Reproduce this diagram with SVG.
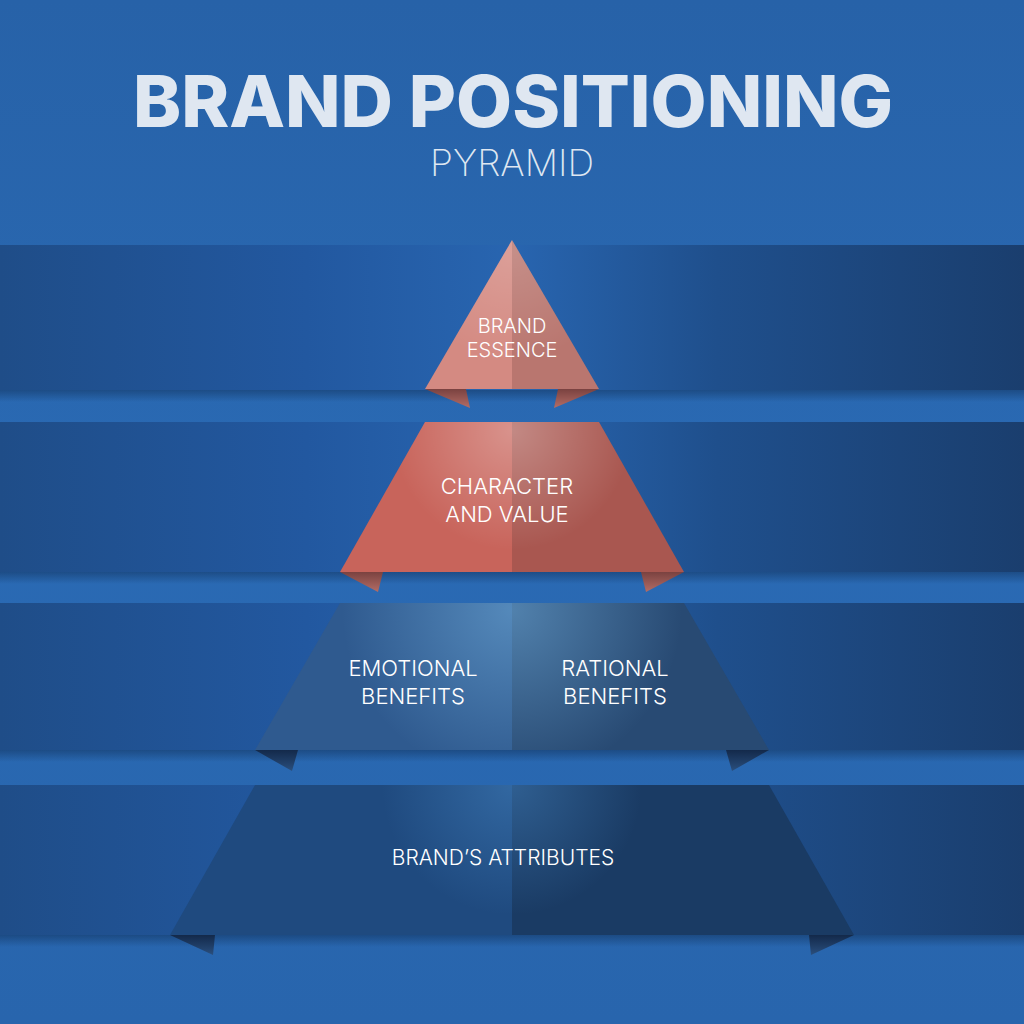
<svg xmlns="http://www.w3.org/2000/svg" width="1024" height="1024" viewBox="0 0 1024 1024">
<defs>
<linearGradient id="bg" x1="0" y1="0" x2="0" y2="1">
<stop offset="0" stop-color="#2762a8"/><stop offset="0.5" stop-color="#2a6ab4"/><stop offset="1" stop-color="#2865ad"/>
</linearGradient>
<linearGradient id="band" x1="0" y1="0" x2="1" y2="0">
<stop offset="0" stop-color="#1f4d88"/><stop offset="0.3" stop-color="#2258a0"/><stop offset="0.5" stop-color="#2865b0"/><stop offset="0.7" stop-color="#1f4f8c"/><stop offset="1" stop-color="#1a3e6e"/>
</linearGradient>
<radialGradient id="g1" gradientUnits="userSpaceOnUse" cx="512" cy="250" r="110">
<stop offset="0" stop-color="#ffffff" stop-opacity="0.18"/><stop offset="1" stop-color="#ffffff" stop-opacity="0"/>
</radialGradient>
<radialGradient id="g2" gradientUnits="userSpaceOnUse" cx="512" cy="430" r="120">
<stop offset="0" stop-color="#ffffff" stop-opacity="0.3"/><stop offset="1" stop-color="#ffffff" stop-opacity="0"/>
</radialGradient>
<radialGradient id="g3" gradientUnits="userSpaceOnUse" cx="512" cy="610" r="170">
<stop offset="0" stop-color="#7ab8e6" stop-opacity="0.5"/><stop offset="1" stop-color="#7ab8e6" stop-opacity="0"/>
</radialGradient>
<radialGradient id="g4" gradientUnits="userSpaceOnUse" cx="512" cy="785" r="130">
<stop offset="0" stop-color="#4f94d4" stop-opacity="0.4"/><stop offset="1" stop-color="#4f94d4" stop-opacity="0"/>
</radialGradient>
<linearGradient id="shadow" x1="0" y1="0" x2="0" y2="1">
<stop offset="0" stop-color="#0d2a50" stop-opacity="0.45"/><stop offset="1" stop-color="#0d2a50" stop-opacity="0"/>
</linearGradient>
<linearGradient id="foldR" x1="0" y1="0" x2="0" y2="1">
<stop offset="0" stop-color="#7a4240"/><stop offset="1" stop-color="#b46d66"/>
</linearGradient>
<linearGradient id="foldB" x1="0" y1="0" x2="0" y2="1">
<stop offset="0" stop-color="#13294a"/><stop offset="1" stop-color="#2a4f7e"/>
</linearGradient>
</defs>
<style>
.t1{font-family:Inter,"Liberation Sans",sans-serif;font-weight:800;fill:#dfe7f1}
.t2{font-family:Inter,"Liberation Sans",sans-serif;font-weight:200;fill:#dfe7f1}
.lbl{font-family:Inter,"Liberation Sans",sans-serif;font-weight:300;fill:#ffffff;text-anchor:middle}
.band{fill:url(#band)}
</style>
<rect width="1024" height="1024" fill="url(#bg)"/>
<g id="title">
<text class="t1" x="133" y="127" font-size="72" textLength="760" lengthAdjust="spacingAndGlyphs">BRAND POSITIONING</text>
<text class="t2" x="430" y="176" font-size="37" textLength="164" lengthAdjust="spacingAndGlyphs">PYRAMID</text>
</g>
<g id="bands">
<rect class="band" x="0" y="245" width="1024" height="145"/>
<rect class="band" x="0" y="422" width="1024" height="150"/>
<rect class="band" x="0" y="603" width="1024" height="147"/>
<rect class="band" x="0" y="785" width="1024" height="150"/>
<rect x="0" y="390" width="1024" height="12" fill="url(#shadow)"/>
<rect x="0" y="572" width="1024" height="12" fill="url(#shadow)"/>
<rect x="0" y="750" width="1024" height="12" fill="url(#shadow)"/>
<rect x="0" y="935" width="1024" height="12" fill="url(#shadow)"/>
</g>
<g id="tier1">
<polygon points="425,389 466,389 470,408" fill="url(#foldR)"/>
<polygon points="599,389 558,389 554,408" fill="url(#foldR)"/>
<polygon points="512,240 425,389 512,389" fill="#d48a82"/>
<polygon points="512,240 599,389 512,389" fill="#b9766f"/>
<polygon points="512,240 425,389 599,389" fill="url(#g1)"/>
<text class="lbl" x="512" y="333" font-size="20">BRAND</text>
<text class="lbl" x="512" y="357" font-size="20">ESSENCE</text>
</g>
<g id="tier2">
<polygon points="340,572 383,572 378,592" fill="url(#foldR)"/>
<polygon points="684,572 641,572 646,592" fill="url(#foldR)"/>
<polygon points="425,422 512,422 512,572 340,572" fill="#c8645b"/>
<polygon points="599,422 512,422 512,572 684,572" fill="#a95750"/>
<polygon points="425,422 599,422 684,572 340,572" fill="url(#g2)"/>
<text class="lbl" x="507" y="494" font-size="22">CHARACTER</text>
<text class="lbl" x="507" y="522" font-size="22">AND VALUE</text>
</g>
<g id="tier3">
<polygon points="255,750 298,750 292,771" fill="url(#foldB)"/>
<polygon points="769,750 726,750 732,771" fill="url(#foldB)"/>
<polygon points="340,603 512,603 512,750 255,750" fill="#2f5a8f"/>
<polygon points="684,603 512,603 512,750 769,750" fill="#284a73"/>
<polygon points="340,603 684,603 769,750 255,750" fill="url(#g3)"/>
<text class="lbl" x="413" y="676" font-size="22">EMOTIONAL</text>
<text class="lbl" x="413" y="704" font-size="22">BENEFITS</text>
<text class="lbl" x="615" y="676" font-size="22">RATIONAL</text>
<text class="lbl" x="615" y="704" font-size="22">BENEFITS</text>
</g>
<g id="tier4">
<polygon points="170,935 215,935 213,955" fill="url(#foldB)"/>
<polygon points="854,935 809,935 811,955" fill="url(#foldB)"/>
<polygon points="255,785 512,785 512,935 170,935" fill="#1f4a7f"/>
<polygon points="769,785 512,785 512,935 854,935" fill="#1a3b64"/>
<polygon points="255,785 769,785 854,935 170,935" fill="url(#g4)"/>
<text class="lbl" x="503" y="865" font-size="21">BRAND’S ATTRIBUTES</text>
</g>
</svg>
